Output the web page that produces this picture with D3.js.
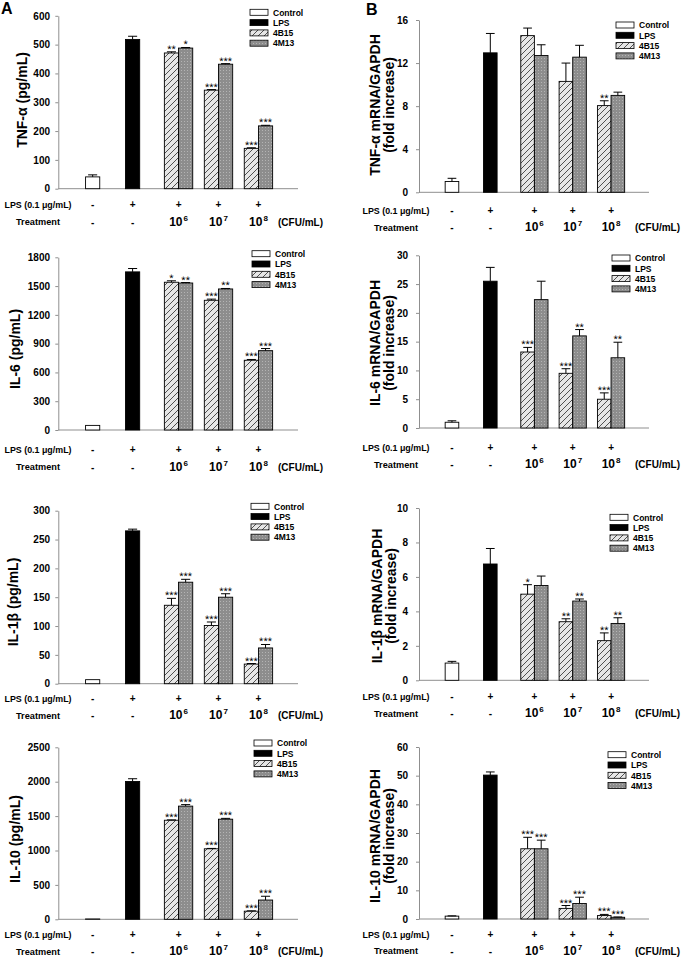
<!DOCTYPE html>
<html><head><meta charset="utf-8">
<script src="https://cdn.jsdelivr.net/npm/d3@7"></script>
<style>
body{margin:0;background:#fff;}
svg{display:block;font-family:"Liberation Sans",Arial,Helvetica,sans-serif;}
text{fill:#000;}
</style></head><body>
<svg id="c" width="682" height="959"></svg>
<script>
// ---------- DATA ----------
const groups = ["Control", "LPS", "10^6", "10^7", "10^8"];
const lpsSigns = ["-", "+", "+", "+", "+"];
const treatBase = ["-", "-", "10", "10", "10"];
const treatExp = ["", "", "6", "7", "8"];
const seriesNames = ["Control", "LPS", "4B15", "4M13"];

const yTitles = [
  ["TNF-α (pg/mL)"], ["IL-6 (pg/mL)"], ["IL-1β (pg/mL)"], ["IL-10 (pg/mL)"],
  ["TNF-α mRNA/GAPDH", "(fold increase)"], ["IL-6 mRNA/GAPDH", "(fold increase)"],
  ["IL-1β mRNA/GAPDH", "(fold increase)"], ["IL-10 mRNA/GAPDH", "(fold increase)"]
];
const yMax  = [600, 1800, 300, 2500, 16, 30, 10, 60];
const yStep = [100, 300, 50, 500, 4, 5, 2, 10];

const controlMean = [41, 48, 7, 5, 1.0, 1.0, 1.0, 1.0];
const controlErr  = [7, 0, 0, 0, 0.3, 0.25, 0.1, 0.1];
const lpsMean = [518, 1648, 265, 2003, 12.95, 25.5, 6.75, 50.2];
const lpsErr  = [11, 35, 3, 40, 1.8, 2.4, 0.9, 1.1];

const b15Mean = [[471, 342, 140], [1540, 1352, 727], [136, 101, 34], [1440, 1025, 118],
                 [14.55, 10.3, 8.05], [13.2, 9.5, 5.0], [5.0, 3.4, 2.3], [24.5, 3.7, 1.2]];
const b15Err  = [[4, 2, 2], [15, 12, 8], [12, 6, 1], [5, 5, 5],
                 [0.7, 1.7, 0.45], [0.8, 0.8, 1.1], [0.55, 0.17, 0.45], [4.0, 1.0, 0.4]];
const m13Mean = [[488, 432, 218], [1532, 1470, 827], [176, 150, 62], [1645, 1455, 280],
                 [12.7, 12.55, 9.0], [22.3, 16.0, 12.2], [5.5, 4.6, 3.3], [24.5, 5.4, 0.6]];
const m13Err  = [[2, 2, 2], [5, 5, 22], [5, 6, 6], [22, 12, 55],
                 [1.0, 1.1, 0.3], [3.2, 1.1, 2.7], [0.55, 0.12, 0.33], [3.0, 2.2, 0.1]];
const b15Stars = [["**", "***", "***"], ["*", "***", "***"], ["***", "***", "***"], ["***", "***", "***"],
                  ["", "", "**"], ["***", "***", "***"], ["*", "**", "**"], ["***", "***", "***"]];
const m13Stars = [["*", "***", "***"], ["**", "**", "***"], ["***", "***", "***"], ["***", "***", "***"],
                  ["", "", ""], ["", "**", "**"], ["", "**", "**"], ["***", "***", "***"]];

// ---------- LAYOUT ----------
const layout = [
  {col: 0, top: 15.8,  bottom: 188.7, tX: 21.7, tY: 100, legX: 250, legY: 12.3,  r1: 16,   r2: 33},
  {col: 0, top: 257.3, bottom: 430,   tX: 15.3, tY: 349, legX: 252, legY: 253.7, r1: 19.7, r2: 36.7},
  {col: 0, top: 510.7, bottom: 683.7, tX: 13,   tY: 602, legX: 251, legY: 506.3, r1: 15,   r2: 31.5},
  {col: 0, top: 747.3, bottom: 919.3, tX: 15,   tY: 839, legX: 254, legY: 743,   r1: 14.7, r2: 32},
  {col: 1, top: 20,    bottom: 192.3, tX: 375,  tY: 105, legX: 616, legY: 25,    r1: 17.7, r2: 34.7},
  {col: 1, top: 255.3, bottom: 428,   tX: 375,  tY: 343, legX: 612, legY: 258,   r1: 19.3, r2: 36},
  {col: 1, top: 508,   bottom: 680.3, tX: 377,  tY: 596, legX: 610, legY: 517.3, r1: 16,   r2: 32.7},
  {col: 1, top: 747,   bottom: 919,   tX: 375,  tY: 836, legX: 608, legY: 754.7, r1: 15,   r2: 31.7}
];
const cols = [
  {axisX: 58.3, right: 298, pad: 5.3, rowX: 38, cfuX: 278, letter: "A", lx: 1, ly: 14},
  {axisX: 419,  right: 649, pad: 8,   rowX: 396, cfuX: 635, letter: "B", lx: 366, ly: 15}
];
const AXIS = "#8f8f8f";

const svg = d3.select("#c");
const defs = svg.append("defs");
const hatch = defs.append("pattern").attr("id", "hatch").attr("patternUnits", "userSpaceOnUse")
  .attr("width", 6).attr("height", 6);
hatch.append("rect").attr("width", 6).attr("height", 6).attr("fill", "#e6e6e6");
hatch.append("path").attr("d", "M0,6 L6,0 M-1.5,1.5 L1.5,-1.5 M4.5,7.5 L7.5,4.5")
  .attr("stroke", "#2a2a2a").attr("stroke-width", 0.8);
const dots = defs.append("pattern").attr("id", "dots").attr("patternUnits", "userSpaceOnUse")
  .attr("width", 3).attr("height", 3);
dots.append("rect").attr("width", 3).attr("height", 3).attr("fill", "#8d8d8d");
dots.append("rect").attr("x", 1).attr("y", 1).attr("width", 1).attr("height", 1).attr("fill", "#b4b4b4");

const fills = {"Control": "#ffffff", "LPS": "#000000", "4B15": "url(#hatch)", "4M13": "url(#dots)"};

cols.forEach(c => {
  svg.append("text").attr("x", c.lx).attr("y", c.ly).attr("font-size", 16).attr("font-weight", "bold")
    .text(c.letter);
});

layout.forEach((L, p) => {
  const C = cols[L.col];
  const g = svg.append("g");
  const xs = d3.scaleLinear().domain([-0.86, 5.14]).range([C.axisX, C.right]);
  const gx = i => xs(i + (i >= 2 ? 0.15 : 0));
  const bw = xs(0.355) - xs(0);
  const ys = d3.scaleLinear().domain([0, yMax[p]]).range([L.bottom, L.top]);

  // y axis
  const ax = g.append("g").attr("transform", `translate(${C.axisX},0)`)
    .call(d3.axisLeft(ys).tickValues(d3.range(0, yMax[p] + yStep[p] / 2, yStep[p]))
      .tickFormat(d3.format("d"))
      .tickSize(3).tickSizeOuter(0).tickPadding(C.pad));
  ax.select(".domain").attr("stroke", AXIS);
  ax.selectAll(".tick line").attr("stroke", AXIS);
  ax.selectAll(".tick text").attr("font-size", 10).attr("font-weight", "bold")
    .attr("font-family", '"Liberation Sans",Arial,sans-serif').attr("fill", "#000");
  // x axis line
  g.append("line").attr("x1", C.axisX).attr("x2", C.right).attr("y1", ys(0)).attr("y2", ys(0))
    .attr("stroke", AXIS).attr("stroke-width", 1);

  // bars data
  const bars = [
    {gi: 0, s: "Control", v: controlMean[p], e: controlErr[p], star: "", off: -0.5},
    {gi: 1, s: "LPS", v: lpsMean[p], e: lpsErr[p], star: "", off: -0.5}
  ];
  for (let k = 0; k < 3; k++) {
    bars.push({gi: k + 2, s: "4B15", v: b15Mean[p][k], e: b15Err[p][k], star: b15Stars[p][k], off: -1});
    bars.push({gi: k + 2, s: "4M13", v: m13Mean[p][k], e: m13Err[p][k], star: m13Stars[p][k], off: 0});
  }
  bars.forEach(b => { b.x = gx(b.gi) + b.off * bw; });

  g.selectAll("rect.bar").data(bars).join("rect").attr("class", "bar")
    .attr("x", d => d.x).attr("y", d => ys(d.v)).attr("width", bw)
    .attr("height", d => ys(0) - ys(d.v))
    .attr("fill", d => fills[d.s]).attr("stroke", "#000").attr("stroke-width", 0.9);

  const eb = bars.filter(d => d.e > 0);
  const cap = bw * 0.32;
  g.selectAll("path.err").data(eb).join("path").attr("class", "err")
    .attr("d", d => {
      const cx = d.x + bw / 2, y0 = ys(d.v), y1 = ys(d.v + d.e);
      return `M${cx},${y0}V${y1}M${cx - cap},${y1}H${cx + cap}`;
    })
    .attr("stroke", "#000").attr("stroke-width", 1).attr("fill", "none");

  g.selectAll("text.star").data(bars.filter(d => d.star)).join("text").attr("class", "star")
    .attr("x", d => d.x + bw / 2).attr("y", d => ys(d.v + d.e) + 1)
    .attr("text-anchor", "middle").attr("font-size", 11).attr("fill", "#000")
    .style("text-rendering", "geometricPrecision").text(d => d.star);

  // y title
  const tt = g.append("text").attr("transform", `translate(${L.tX},${L.tY}) rotate(-90)`)
    .attr("text-anchor", "middle").attr("font-size", 14).attr("font-weight", "bold");
  const lines = yTitles[p];
  lines.forEach((ln, i) => {
    tt.append("tspan").attr("x", 0).attr("y", i * 14 + 5).text(ln);
  });

  // legend
  seriesNames.forEach((s, i) => {
    const yy = L.legY + i * 10.3;
    g.append("rect").attr("x", L.legX).attr("y", yy - 3).attr("width", 18).attr("height", 6)
      .attr("fill", fills[s]).attr("stroke", "#000").attr("stroke-width", 0.8);
    g.append("text").attr("x", L.legX + 23).attr("y", yy + 3.2).attr("font-size", 8.5)
      .attr("font-weight", "bold").text(s);
  });

  // x labels rows
  const y1 = ys(0) + L.r1, y2 = ys(0) + L.r2;
  g.append("text").attr("x", C.rowX).attr("y", y1 + 3.5).attr("text-anchor", "middle")
    .attr("font-size", 9.5).attr("font-weight", "bold")
    .attr("textLength", 67).attr("lengthAdjust", "spacingAndGlyphs").text("LPS (0.1 μg/mL)");
  g.append("text").attr("x", C.rowX).attr("y", y2 + 3.5).attr("text-anchor", "middle")
    .attr("font-size", 9.5).attr("font-weight", "bold")
    .attr("textLength", 44).attr("lengthAdjust", "spacingAndGlyphs").text("Treatment");
  groups.forEach((gname, i) => {
    g.append("text").attr("x", gx(i)).attr("y", y1 + 3.5).attr("text-anchor", "middle")
      .attr("font-size", 10).attr("font-weight", "bold").text(lpsSigns[i]);
    const t = g.append("text").attr("x", gx(i)).attr("y", y2 + 4).attr("text-anchor", "middle")
      .attr("font-weight", "bold");
    if (treatExp[i]) {
      t.attr("font-size", 12);
      t.append("tspan").text(treatBase[i]);
      t.append("tspan").attr("font-size", 8).attr("dy", -5).attr("dx", 1).text(treatExp[i]);
    } else {
      t.attr("font-size", 10).text(treatBase[i]);
    }
  });
  g.append("text").attr("x", C.cfuX).attr("y", y2 + 4).attr("font-size", 10).attr("font-weight", "bold")
    .text("(CFU/mL)");
});
</script>
</body></html>
